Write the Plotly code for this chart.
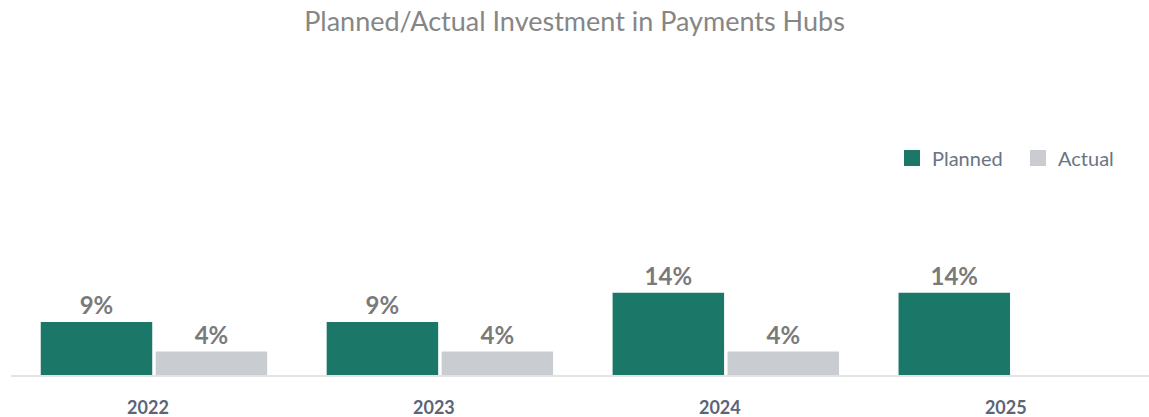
import plotly.graph_objects as go

years = ["2022", "2023", "2024", "2025"]
planned = [9, 9, 14, 14]
actual = [4, 4, 4, None]
planned_labels = ["9%", "9%", "14%", "14%"]
actual_labels = ["4%", "4%", "4%", ""]

PLANNED_COLOR = "#1b7869"
ACTUAL_COLOR = "#c9cdd1"
label_font = dict(family="Lato", size=24, color="#7a7a7a", weight="bold")

fig = go.Figure()
fig.add_trace(go.Bar(
    x=years, y=planned, name="Planned", marker=dict(color=PLANNED_COLOR, line=dict(width=0)),
    text=planned_labels, textposition="outside", cliponaxis=False, textfont=label_font,
    showlegend=False,
))
fig.add_trace(go.Bar(
    x=years, y=actual, name="Actual", marker=dict(color=ACTUAL_COLOR, line=dict(width=0)),
    text=actual_labels, textposition="outside", cliponaxis=False, textfont=label_font,
    showlegend=False,
))
# legend entries with larger square swatches
for name, color in [("Planned", PLANNED_COLOR), ("Actual", ACTUAL_COLOR)]:
    fig.add_trace(go.Scatter(
        x=[None], y=[None], mode="markers", name=name,
        marker=dict(symbol="square", size=16, color=color),
    ))

fig.update_layout(
    width=1149, height=417,
    margin=dict(l=11, r=0, t=100, b=42),
    paper_bgcolor="white", plot_bgcolor="white",
    barmode="group", bargap=0.196, bargroupgap=0.03,
    title=dict(text="Planned/Actual Investment in Payments Hubs", x=0.5, xanchor="center",
               y=1 - 22 / 417, yanchor="middle",
               font=dict(family="Lato", size=27, color="#868686")),
    legend=dict(orientation="h", x=0.9956, xanchor="right", y=0.789, yanchor="middle",
                font=dict(family="Lato", size=20, color="#6b7385"),
                itemwidth=30, entrywidth=81, traceorder="normal", bgcolor="rgba(0,0,0,0)"),
    xaxis=dict(range=[-0.5, 3.48], showline=True, linecolor="#e3e3e3", linewidth=1.5,
               ticks="", showgrid=False,
               tickfont=dict(family="Lato", size=18, color="#5b6577", weight="bold"),
               ticklabelstandoff=16, ticklabelshift=-6),
    yaxis=dict(range=[0, 46.8], visible=False, showgrid=False, zeroline=False),
    showlegend=True,
)

fig.write_html("out.html", config={"displayModeBar": False},
               post_script="document.body.style.margin='0';")
